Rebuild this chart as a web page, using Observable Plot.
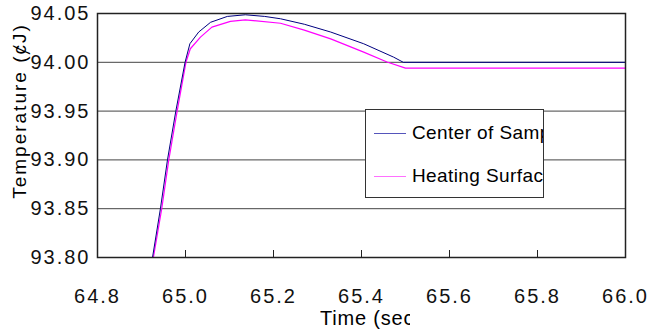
<!DOCTYPE html>
<html>
<head>
<meta charset="utf-8">
<script src="https://cdn.jsdelivr.net/npm/d3@7"></script>
<script src="https://cdn.jsdelivr.net/npm/@observablehq/plot@0.6"></script>
<style>
  body { margin: 0; background: #fff; }
  #wrap { position: relative; width: 650px; height: 330px; overflow: hidden; font-family: "Liberation Sans", Arial, sans-serif; }
  #legend { position: absolute; left: 365px; top: 109px; width: 177px; height: 87px; background: #fff; border: 1px solid #333; overflow: hidden; white-space: nowrap; }
  .item { position: absolute; left: 0; height: 20px; font-size: 19px; letter-spacing: 0.4px; color: #000; }
  .sw { position: absolute; left: 8px; width: 32px; height: 0; }
  .lab { position: absolute; left: 46px; top: -11px; }
  #xtitle { position: absolute; left: 320px; top: 308px; width: 90px; height: 22px; line-height: 20px; overflow: hidden; white-space: nowrap; font-size: 20px; letter-spacing: 0.8px; }
  #ytitle { position: absolute; left: 20px; top: 111px; transform: translate(-50%, -50%) rotate(-90deg); white-space: nowrap; font-size: 19px; letter-spacing: 2px; }
</style>
</head>
<body>
<div id="wrap"></div>
<script>
const seriesNames = ["Center of Sample", "Heating Surface"];
const seriesColors = ["#000080", "#ff00ff"];

const timeCenter = [64.92, 64.925, 64.943, 64.959, 64.978, 64.999, 65.01, 65.03, 65.057, 65.095, 65.136, 65.18, 65.216, 65.27, 65.33, 65.405, 65.473, 65.495, 66.0];
const tempCenter = [93.795, 93.80, 93.85, 93.90, 93.95, 94.00, 94.019, 94.031, 94.041, 94.047, 94.0487, 94.047, 94.0446, 94.039, 94.031, 94.019, 94.0053, 94.000, 94.000];

const timeSurface = [64.922, 64.927, 64.946, 64.962, 64.981, 65.001, 65.011, 65.034, 65.06, 65.102, 65.136, 65.216, 65.27, 65.33, 65.405, 65.458, 65.5, 66.0];
const tempSurface = [93.795, 93.80, 93.85, 93.90, 93.95, 94.00, 94.0139, 94.0258, 94.036, 94.042, 94.0435, 94.040, 94.033, 94.024, 94.0104, 94.0003, 93.994, 93.994];

const xTicks = [64.8, 65.0, 65.2, 65.4, 65.6, 65.8, 66.0];
const yTicks = [93.80, 93.85, 93.90, 93.95, 94.00, 94.05];

const xTitle = "Time (sec)";
const yTitle = "Temperature (ȼJ)";

const center = timeCenter.map((t, i) => ({t, v: tempCenter[i]}));
const surface = timeSurface.map((t, i) => ({t, v: tempSurface[i]}));

const chart = Plot.plot({
  width: 650,
  height: 330,
  marginLeft: 97,
  marginRight: 25,
  marginTop: 13,
  marginBottom: 73,
  style: { fontFamily: "Liberation Sans, Arial, sans-serif", fontSize: "20px", letterSpacing: "2px", color: "#000", background: "#fff" },
  x: { domain: [64.8, 66.0] },
  y: { domain: [93.80, 94.05] },
  marks: [
    Plot.gridY(yTicks, { stroke: "#444", strokeOpacity: 1 }),
    Plot.line(surface, { x: "t", y: "v", stroke: seriesColors[1], strokeWidth: 1.2, clip: true }),
    Plot.line(center, { x: "t", y: "v", stroke: seriesColors[0], strokeWidth: 1, clip: true }),
    Plot.frame({ stroke: "#222", strokeWidth: 1.5 }),
    Plot.axisY(yTicks, { tickSize: 0, tickPadding: 7, tickFormat: d => d.toFixed(2), label: null, fill: "#111" }),
    Plot.axisX(xTicks, { tickSize: -7, tickPadding: 38, tickFormat: d => d.toFixed(1), label: null, stroke: "#222", fill: "#111" })
  ]
});

const wrap = document.getElementById("wrap");
wrap.appendChild(chart);

const legend = document.createElement("div");
legend.id = "legend";
seriesNames.forEach((name, i) => {
  const item = document.createElement("div");
  item.className = "item";
  item.style.top = (i === 0 ? 23 : 66) + "px";
  item.style.width = "100%";
  const sw = document.createElement("div");
  sw.className = "sw";
  sw.style.borderTop = "1.2px solid " + (i === 0 ? "#5555bb" : "#ff70ff");
  const lab = document.createElement("span");
  lab.className = "lab";
  lab.textContent = name;
  item.appendChild(sw);
  item.appendChild(lab);
  legend.appendChild(item);
});
wrap.appendChild(legend);

const xt = document.createElement("div");
xt.id = "xtitle";
xt.textContent = xTitle;
wrap.appendChild(xt);

const yt = document.createElement("div");
yt.id = "ytitle";
yt.textContent = yTitle;
wrap.appendChild(yt);
</script>
</body>
</html>
